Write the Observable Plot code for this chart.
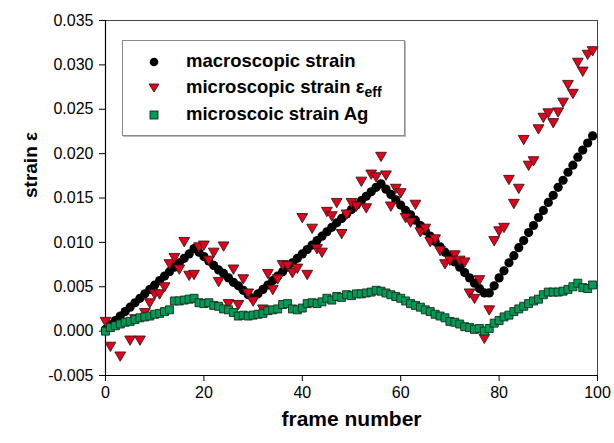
<!DOCTYPE html>
<html>
<head>
<meta charset="utf-8">
<script src="https://cdn.jsdelivr.net/npm/d3@7"></script>
<script src="https://cdn.jsdelivr.net/npm/@observablehq/plot@0.6"></script>
<style>
  body { margin: 0; background: #fff; font-family: Arial, "Liberation Sans", sans-serif; }
  #wrap { position: relative; width: 614px; height: 443px; }
  #legend { position: absolute; left: 122px; top: 40px; width: 283px; height: 96px; border: 1px solid #8a8a8a; box-sizing: border-box; background: #fff; box-shadow: 1px 1px 0 #bbb; }
  .row { position: absolute; left: 0; height: 24px; width: 100%; }
  .row svg { position: absolute; left: 22px; top: 0; }
  .row span { position: absolute; left: 63px; top: 0px; font: bold 18.5px Arial, "Liberation Sans", sans-serif; color: #000; white-space: nowrap; line-height: 22px; }
  .row sub { font-size: 14px; vertical-align: -4px; line-height: 0; }
</style>
</head>
<body>
<div id="wrap"></div>
<script>
// ---- data ----
const frames = [0,1,2,3,4,5,6,7,8,9,10,11,12,13,14,15,16,17,18,19,20,21,22,23,24,25,26,27,28,29,30,31,32,33,34,35,36,37,38,39,40,41,42,43,44,45,46,47,48,49,50,51,52,53,54,55,56,57,58,59,60,61,62,63,64,65,66,67,68,69,70,71,72,73,74,75,76,77,78,79,80,81,82,83,84,85,86,87,88,89,90,91,92,93,94,95,96,97,98,99];

const macroStrain = [0.0002,0.0007,0.0012,0.0017,0.0022,0.0027,0.0032,0.0037,0.0042,0.0047,0.0052,0.0057,0.0062,0.0067,0.0072,0.0077,0.0082,0.0087,0.0093,0.0089,0.0084,0.0079,0.0074,0.0069,0.0065,0.0060,0.0055,0.0051,0.0046,0.0041,0.0037,0.0042,0.0047,0.0052,0.0057,0.0062,0.0067,0.0072,0.0077,0.0082,0.0087,0.0092,0.0097,0.0102,0.0107,0.0112,0.0117,0.0122,0.0127,0.0132,0.0137,0.0142,0.0147,0.0152,0.0157,0.0162,0.0166,0.0160,0.0154,0.0148,0.0142,0.0136,0.0131,0.0125,0.0119,0.0113,0.0107,0.0101,0.0095,0.0089,0.0084,0.0078,0.0072,0.0066,0.0060,0.0054,0.0048,0.0043,0.0043,0.0051,0.0060,0.0068,0.0077,0.0085,0.0094,0.0102,0.0111,0.0119,0.0128,0.0136,0.0145,0.0153,0.0162,0.0170,0.0179,0.0187,0.0196,0.0204,0.0212,0.0220];

const agStrain = [0.0000,0.0004,0.0006,0.0008,0.0010,0.0011,0.0013,0.0015,0.0016,0.0017,0.0019,0.0020,0.0022,0.0024,0.0034,0.0034,0.0035,0.0036,0.0037,0.0032,0.0031,0.0032,0.0029,0.0028,0.0025,0.0024,0.0021,0.0017,0.0018,0.0017,0.0018,0.0019,0.0020,0.0023,0.0024,0.0025,0.0030,0.0031,0.0025,0.0024,0.0026,0.0031,0.0032,0.0031,0.0033,0.0037,0.0035,0.0039,0.0038,0.0041,0.0040,0.0042,0.0042,0.0043,0.0044,0.0046,0.0045,0.0043,0.0041,0.0039,0.0037,0.0034,0.0031,0.0029,0.0027,0.0024,0.0022,0.0019,0.0017,0.0015,0.0011,0.0010,0.0008,0.0005,0.0004,0.0002,0.0003,0.0000,0.0003,0.0009,0.0012,0.0016,0.0018,0.0022,0.0025,0.0028,0.0031,0.0034,0.0036,0.0041,0.0044,0.0044,0.0044,0.0045,0.0047,0.0050,0.0054,0.0049,0.0048,0.0052];

const effFrames = [0,1,3,5,6,7,8,9,10,11,12,13,14,15,16,17,18,19,20,21,22,23,24,25,26,27,28,29,30,32,33,34,35,36,37,38,39,40,41,42,43,44,45,46,47,48,49,50,51,52,53,54,55,56,57,58,59,60,61,62,63,64,65,66,67,68,69,70,71,72,73,74,75,76,77,78,79,80,81,82,83,84,85,86,87,88,89,90,91,92,93,94,95,96,97,98,99];
const effStrain = [0.0012,-0.0016,-0.0027,-0.0009,0.0015,-0.0009,0.0022,0.0033,0.0043,0.0043,0.0051,0.0077,0.0084,0.0071,0.0102,0.0064,0.0065,0.0096,0.0098,0.0081,0.0090,0.0057,0.0097,0.0032,0.0071,0.0031,0.0060,0.0044,0.0035,0.0026,0.0066,0.0048,0.0060,0.0076,0.0075,0.0067,0.0072,0.0129,0.0065,0.0117,0.0094,0.0090,0.0136,0.0131,0.0146,0.0111,0.0133,0.0146,0.0142,0.0170,0.0140,0.0178,0.0175,0.0198,0.0177,0.0142,0.0162,0.0157,0.0129,0.0124,0.0144,0.0113,0.0117,0.0102,0.0105,0.0092,0.0077,0.0081,0.0087,0.0081,0.0079,0.0044,0.0038,0.0059,-0.0007,0.0025,0.0103,0.0114,0.0118,0.0172,0.0145,0.0162,0.0217,0.0188,0.0193,0.0229,0.0242,0.0247,0.0236,0.0248,0.0259,0.0279,0.0269,0.0304,0.0294,0.0313,0.0317];

const xTicks = [0,20,40,60,80,100];
const yTicks = [-0.005,0,0.005,0.010,0.015,0.020,0.025,0.030,0.035];
const seriesNames = ["macroscopic strain", "microscopic strain ε", "microscoic strain Ag"];

// ---- build tables ----
const macro = frames.map((f, i) => ({frame: f, value: macroStrain[i]}));
const ag = frames.map((f, i) => ({frame: f, value: agStrain[i]}));
const eff = effFrames.map((f, i) => ({frame: f, value: effStrain[i]}));

const RED = "#e3001b", GREEN = "#009a58", EDGE = "#3a1a1a";
const FONT = "Arial, 'Liberation Sans', sans-serif";

const chart = Plot.plot({
  width: 614,
  height: 443,
  marginLeft: 105,
  marginRight: 17,
  marginTop: 20,
  marginBottom: 68,
  style: {fontFamily: FONT, fontSize: "16px", color: "#000", background: "#fff"},
  x: {domain: [0, 100], ticks: xTicks},
  y: {domain: [-0.005, 0.035], ticks: yTicks},
  marks: [
    Plot.frame({stroke: "#444", strokeWidth: 1}),
    Plot.axisX({ticks: xTicks, tickSize: 6, tickPadding: 5, label: null, fontSize: 16, stroke: "#000"}),
    Plot.axisY({ticks: yTicks, tickSize: 6, tickPadding: 6, label: null, fontSize: 16, tickFormat: d => (Math.abs(d) < 1e-9 ? 0 : d).toFixed(3)}),
    Plot.ruleX([0], {stroke: "#000", strokeWidth: 1.2}),
    Plot.ruleY([-0.005], {stroke: "#000", strokeWidth: 1.2}),
    Plot.dot(macro, {x: "frame", y: "value", r: 4.6, fill: "#000", stroke: "none"}),
    Plot.dot(eff, {x: "frame", y: "value", symbol: "triangle", rotate: 180, r: 4, fill: RED, stroke: EDGE, strokeWidth: 0.9}),
    Plot.dot(ag, {x: "frame", y: "value", symbol: "square", r: 4.5, fill: GREEN, stroke: "#1a2a1a", strokeWidth: 0.9}),
    Plot.text(["strain ε"], {frameAnchor: "left", dx: -75, rotate: -90, fontSize: 19, fontWeight: "bold", fill: "#000"}),
    Plot.text(["frame number"], {frameAnchor: "bottom", dy: 50, fontSize: 21, fontWeight: "bold", fill: "#000"})
  ]
});

const wrap = document.getElementById("wrap");
wrap.appendChild(chart);

// ---- legend ----
const legend = document.createElement("div");
legend.id = "legend";
const rows = [
  {top: 9, sym: `<circle cx="9" cy="12" r="4.3" fill="#000"/>`, label: seriesNames[0]},
  {top: 35, sym: `<path d="M4,8 L14,8 L9,16 Z" fill="${RED}" stroke="${EDGE}" stroke-width="0.9"/>`, label: seriesNames[1] + "<sub>eff</sub>"},
  {top: 62, sym: `<rect x="5" y="8" width="8" height="8" fill="${GREEN}" stroke="#1a2a1a" stroke-width="0.9"/>`, label: seriesNames[2]}
];
for (const r of rows) {
  const row = document.createElement("div");
  row.className = "row";
  row.style.top = r.top + "px";
  row.innerHTML = `<svg width="18" height="24">${r.sym}</svg><span>${r.label}</span>`;
  legend.appendChild(row);
}
wrap.appendChild(legend);
</script>
</body>
</html>
